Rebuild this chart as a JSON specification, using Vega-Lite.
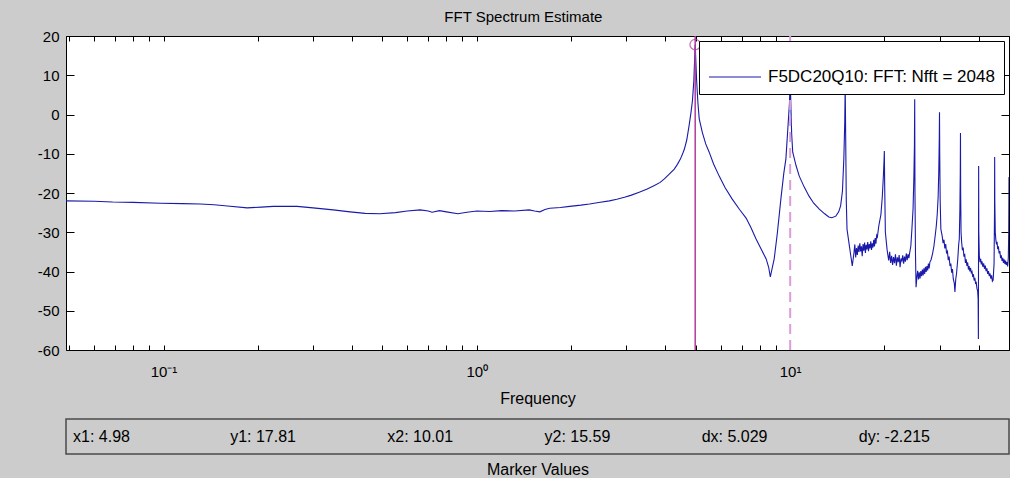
{
  "$schema": "https://vega.github.io/schema/vega-lite/v6.json",
  "padding": {"left": 36, "top": 9, "right": 0, "bottom": 0},
  "title": {"text": "FFT Spectrum Estimate", "anchor": "middle", "fontSize": 15, "fontWeight": "normal", "font": "Liberation Sans", "color": "black", "offset": 4},
  "datasets": {
    "spectrum": [
      {"freq": 0.0488, "db": -22.0}, {"freq": 0.06, "db": -22.1}, {"freq": 0.0688, "db": -22.3}, {"freq": 0.08, "db": -22.4},
      {"freq": 0.0978, "db": -22.6}, {"freq": 0.115, "db": -22.7}, {"freq": 0.131, "db": -22.8}, {"freq": 0.145, "db": -23.0},
      {"freq": 0.16, "db": -23.3}, {"freq": 0.185, "db": -23.8}, {"freq": 0.205, "db": -23.6}, {"freq": 0.224, "db": -23.4},
      {"freq": 0.267, "db": -23.4}, {"freq": 0.3, "db": -23.8}, {"freq": 0.348, "db": -24.3}, {"freq": 0.394, "db": -24.8},
      {"freq": 0.44, "db": -25.2}, {"freq": 0.49, "db": -25.3}, {"freq": 0.55, "db": -25.0}, {"freq": 0.6, "db": -24.6},
      {"freq": 0.66, "db": -24.3}, {"freq": 0.7, "db": -24.6}, {"freq": 0.72, "db": -24.9}, {"freq": 0.76, "db": -24.5},
      {"freq": 0.8, "db": -24.8}, {"freq": 0.87, "db": -25.3}, {"freq": 0.93, "db": -24.9}, {"freq": 1.0, "db": -24.6},
      {"freq": 1.1, "db": -24.7}, {"freq": 1.2, "db": -24.5}, {"freq": 1.32, "db": -24.6}, {"freq": 1.47, "db": -24.3},
      {"freq": 1.53, "db": -24.6}, {"freq": 1.59, "db": -24.8}, {"freq": 1.65, "db": -24.2}, {"freq": 1.71, "db": -23.9},
      {"freq": 1.85, "db": -23.7}, {"freq": 1.98, "db": -23.4}, {"freq": 2.15, "db": -23.1}, {"freq": 2.29, "db": -22.8},
      {"freq": 2.45, "db": -22.4}, {"freq": 2.65, "db": -22.0}, {"freq": 2.8, "db": -21.6}, {"freq": 2.96, "db": -21.1},
      {"freq": 3.1, "db": -20.6}, {"freq": 3.3, "db": -19.8}, {"freq": 3.5, "db": -19.0}, {"freq": 3.69, "db": -18.1},
      {"freq": 3.85, "db": -17.3}, {"freq": 3.97, "db": -16.4}, {"freq": 4.1, "db": -15.3}, {"freq": 4.27, "db": -13.9},
      {"freq": 4.37, "db": -12.7}, {"freq": 4.47, "db": -11.3}, {"freq": 4.55, "db": -9.8}, {"freq": 4.6, "db": -8.8},
      {"freq": 4.68, "db": -6.5}, {"freq": 4.76, "db": -2.9}, {"freq": 4.83, "db": 0.6}, {"freq": 4.88, "db": 3.5},
      {"freq": 4.93, "db": 8.5}, {"freq": 4.98, "db": 17.8}, {"freq": 5.03, "db": 9.0}, {"freq": 5.08, "db": 3.0},
      {"freq": 5.13, "db": -1.1}, {"freq": 5.25, "db": -4.6}, {"freq": 5.38, "db": -7.5}, {"freq": 5.52, "db": -9.6},
      {"freq": 5.7, "db": -12.6}, {"freq": 5.94, "db": -15.7}, {"freq": 6.2, "db": -18.6}, {"freq": 6.53, "db": -21.5},
      {"freq": 6.9, "db": -24.2}, {"freq": 7.24, "db": -26.4}, {"freq": 7.5, "db": -28.8}, {"freq": 7.79, "db": -31.7},
      {"freq": 8.1, "db": -34.4}, {"freq": 8.39, "db": -36.8}, {"freq": 8.55, "db": -39.0}, {"freq": 8.65, "db": -41.4},
      {"freq": 8.75, "db": -39.5}, {"freq": 8.9, "db": -36.8}, {"freq": 9.1, "db": -30.5}, {"freq": 9.35, "db": -21.5},
      {"freq": 9.55, "db": -15.0}, {"freq": 9.7, "db": -11.3}, {"freq": 9.85, "db": -3.0}, {"freq": 9.96, "db": 3.0},
      {"freq": 10.01, "db": 10.0}, {"freq": 10.06, "db": 2.5}, {"freq": 10.12, "db": -5.0}, {"freq": 10.2, "db": -9.6},
      {"freq": 10.45, "db": -13.0}, {"freq": 10.7, "db": -15.7}, {"freq": 11.1, "db": -18.5}, {"freq": 11.5, "db": -20.8},
      {"freq": 11.9, "db": -22.6}, {"freq": 12.4, "db": -24.1}, {"freq": 12.9, "db": -25.3}, {"freq": 13.3, "db": -26.1},
      {"freq": 13.6, "db": -26.3}, {"freq": 14.0, "db": -25.9}, {"freq": 14.3, "db": -24.8}, {"freq": 14.5, "db": -23.3},
      {"freq": 14.7, "db": -19.5}, {"freq": 14.85, "db": -11.3}, {"freq": 14.95, "db": -2.0}, {"freq": 15.0, "db": 7.8},
      {"freq": 15.05, "db": -5.0}, {"freq": 15.12, "db": -22.0}, {"freq": 15.2, "db": -29.2}, {"freq": 15.5, "db": -34.0},
      {"freq": 15.8, "db": -38.6},
      {"freq": 16.0, "db": -35.2}, {"freq": 16.1, "db": -33.1}, {"freq": 16.2, "db": -36.4}, {"freq": 16.3, "db": -34.0},
      {"freq": 16.4, "db": -35.8}, {"freq": 16.5, "db": -33.4}, {"freq": 16.6, "db": -35.0}, {"freq": 16.7, "db": -32.8},
      {"freq": 16.8, "db": -34.9}, {"freq": 16.9, "db": -33.6}, {"freq": 17.0, "db": -36.1}, {"freq": 17.1, "db": -33.0},
      {"freq": 17.2, "db": -34.7}, {"freq": 17.3, "db": -32.6}, {"freq": 17.4, "db": -35.3}, {"freq": 17.5, "db": -33.2},
      {"freq": 17.6, "db": -34.4}, {"freq": 17.7, "db": -32.5}, {"freq": 17.8, "db": -34.8}, {"freq": 17.9, "db": -33.0},
      {"freq": 18.0, "db": -34.1}, {"freq": 18.1, "db": -32.3}, {"freq": 18.2, "db": -34.5}, {"freq": 18.3, "db": -32.8},
      {"freq": 18.4, "db": -33.9}, {"freq": 18.5, "db": -31.9}, {"freq": 18.6, "db": -33.6}, {"freq": 18.7, "db": -31.5},
      {"freq": 18.8, "db": -32.9}, {"freq": 18.9, "db": -30.8}, {"freq": 19.0, "db": -31.2}, {"freq": 19.2, "db": -28.4},
      {"freq": 19.5, "db": -25.5}, {"freq": 19.7, "db": -21.0}, {"freq": 19.85, "db": -16.0}, {"freq": 19.95, "db": -12.0},
      {"freq": 20.0, "db": -9.3}, {"freq": 20.05, "db": -18.0}, {"freq": 20.15, "db": -30.0}, {"freq": 20.4, "db": -34.3},
      {"freq": 20.5, "db": -35.5}, {"freq": 20.65, "db": -37.2}, {"freq": 20.8, "db": -35.0}, {"freq": 20.95, "db": -37.8},
      {"freq": 21.1, "db": -36.0}, {"freq": 21.25, "db": -38.3}, {"freq": 21.4, "db": -36.3}, {"freq": 21.55, "db": -37.9},
      {"freq": 21.7, "db": -35.6}, {"freq": 21.85, "db": -38.5}, {"freq": 22.0, "db": -36.4}, {"freq": 22.15, "db": -37.6},
      {"freq": 22.3, "db": -35.8}, {"freq": 22.45, "db": -38.9}, {"freq": 22.6, "db": -36.7}, {"freq": 22.75, "db": -37.3},
      {"freq": 22.9, "db": -35.9}, {"freq": 23.05, "db": -38.0}, {"freq": 23.2, "db": -36.2}, {"freq": 23.35, "db": -37.5},
      {"freq": 23.5, "db": -35.4}, {"freq": 23.65, "db": -37.1}, {"freq": 23.8, "db": -35.6}, {"freq": 23.95, "db": -36.6},
      {"freq": 24.1, "db": -35.2}, {"freq": 24.3, "db": -33.5}, {"freq": 24.5, "db": -29.0}, {"freq": 24.7, "db": -24.0},
      {"freq": 24.85, "db": -16.0}, {"freq": 24.95, "db": -8.0}, {"freq": 25.0, "db": 3.9}, {"freq": 25.05, "db": -20.0},
      {"freq": 25.15, "db": -36.0}, {"freq": 25.25, "db": -44.0},
      {"freq": 25.4, "db": -41.5}, {"freq": 25.55, "db": -39.8}, {"freq": 25.7, "db": -42.0}, {"freq": 25.85, "db": -40.2},
      {"freq": 26.0, "db": -41.8}, {"freq": 26.15, "db": -39.9}, {"freq": 26.3, "db": -41.2}, {"freq": 26.45, "db": -39.5},
      {"freq": 26.6, "db": -41.0}, {"freq": 26.75, "db": -39.2}, {"freq": 26.9, "db": -40.6}, {"freq": 27.05, "db": -38.8},
      {"freq": 27.2, "db": -40.1}, {"freq": 27.35, "db": -38.6}, {"freq": 27.5, "db": -39.7}, {"freq": 27.65, "db": -38.0},
      {"freq": 27.8, "db": -39.2}, {"freq": 27.95, "db": -37.6}, {"freq": 28.2, "db": -37.0}, {"freq": 28.5, "db": -35.5},
      {"freq": 28.8, "db": -33.5}, {"freq": 29.1, "db": -30.5}, {"freq": 29.3, "db": -28.4}, {"freq": 29.5, "db": -25.5},
      {"freq": 29.7, "db": -21.0}, {"freq": 29.85, "db": -14.0}, {"freq": 29.95, "db": -6.0}, {"freq": 30.0, "db": 0.6},
      {"freq": 30.05, "db": -10.0}, {"freq": 30.15, "db": -22.0}, {"freq": 30.3, "db": -29.2}, {"freq": 30.6, "db": -31.0},
      {"freq": 30.8, "db": -32.8}, {"freq": 31.0, "db": -31.9}, {"freq": 31.2, "db": -34.1}, {"freq": 31.4, "db": -33.0},
      {"freq": 31.6, "db": -35.4}, {"freq": 31.8, "db": -34.9}, {"freq": 32.0, "db": -37.1}, {"freq": 32.2, "db": -36.2},
      {"freq": 32.4, "db": -38.6}, {"freq": 32.6, "db": -38.0}, {"freq": 32.8, "db": -40.3}, {"freq": 33.0, "db": -39.4},
      {"freq": 33.2, "db": -41.9}, {"freq": 33.45, "db": -43.0}, {"freq": 33.6, "db": -45.2}, {"freq": 33.8, "db": -42.0},
      {"freq": 34.0, "db": -40.5}, {"freq": 34.3, "db": -37.0}, {"freq": 34.55, "db": -33.0}, {"freq": 34.7, "db": -31.7},
      {"freq": 34.85, "db": -24.0}, {"freq": 34.95, "db": -15.0}, {"freq": 35.0, "db": -4.7}, {"freq": 35.05, "db": -20.0},
      {"freq": 35.15, "db": -30.0}, {"freq": 35.3, "db": -32.5}, {"freq": 35.5, "db": -34.6}, {"freq": 35.7, "db": -33.9},
      {"freq": 35.9, "db": -36.2}, {"freq": 36.1, "db": -35.5}, {"freq": 36.3, "db": -37.8}, {"freq": 36.5, "db": -36.9},
      {"freq": 36.7, "db": -38.6}, {"freq": 36.9, "db": -37.7}, {"freq": 37.1, "db": -39.5}, {"freq": 37.3, "db": -38.6},
      {"freq": 37.5, "db": -40.0}, {"freq": 37.7, "db": -39.1}, {"freq": 37.9, "db": -40.3}, {"freq": 38.1, "db": -40.0},
      {"freq": 38.3, "db": -41.4}, {"freq": 38.5, "db": -40.7}, {"freq": 38.7, "db": -42.3}, {"freq": 38.9, "db": -41.6},
      {"freq": 39.1, "db": -43.0}, {"freq": 39.3, "db": -42.8}, {"freq": 39.5, "db": -44.3}, {"freq": 39.7, "db": -44.9},
      {"freq": 39.85, "db": -47.0}, {"freq": 39.93, "db": -57.2}, {"freq": 40.0, "db": -13.1}, {"freq": 40.05, "db": -30.0},
      {"freq": 40.2, "db": -36.0}, {"freq": 40.4, "db": -37.6}, {"freq": 40.6, "db": -36.8}, {"freq": 40.8, "db": -38.2},
      {"freq": 41.0, "db": -37.4}, {"freq": 41.25, "db": -38.8}, {"freq": 41.5, "db": -37.9}, {"freq": 41.75, "db": -39.3},
      {"freq": 42.0, "db": -38.5}, {"freq": 42.25, "db": -39.9}, {"freq": 42.5, "db": -39.2}, {"freq": 42.75, "db": -40.6},
      {"freq": 43.0, "db": -39.9}, {"freq": 43.25, "db": -41.2}, {"freq": 43.5, "db": -40.5}, {"freq": 43.75, "db": -41.8},
      {"freq": 44.0, "db": -41.0}, {"freq": 44.25, "db": -42.5}, {"freq": 44.5, "db": -42.2}, {"freq": 44.8, "db": -38.0},
      {"freq": 44.95, "db": -25.0}, {"freq": 45.0, "db": -10.8}, {"freq": 45.05, "db": -22.0}, {"freq": 45.2, "db": -30.0},
      {"freq": 45.4, "db": -32.0}, {"freq": 45.6, "db": -33.1}, {"freq": 45.8, "db": -32.4}, {"freq": 46.0, "db": -34.3},
      {"freq": 46.25, "db": -33.6}, {"freq": 46.5, "db": -35.4}, {"freq": 46.75, "db": -34.8}, {"freq": 47.0, "db": -36.6},
      {"freq": 47.25, "db": -35.9}, {"freq": 47.5, "db": -37.3}, {"freq": 47.75, "db": -36.5}, {"freq": 48.0, "db": -37.8},
      {"freq": 48.25, "db": -36.9}, {"freq": 48.5, "db": -38.1}, {"freq": 48.75, "db": -37.2}, {"freq": 49.0, "db": -38.3},
      {"freq": 49.25, "db": -37.6}, {"freq": 49.5, "db": -38.7}, {"freq": 49.75, "db": -36.5}, {"freq": 49.9, "db": -30.0},
      {"freq": 50.0, "db": -15.9}
    ],
    "markers": [
      {"mx": 4.98, "my": 17.81, "kind": "solid"},
      {"mx": 10.01, "my": 15.59, "kind": "dashed"}
    ],
    "readout": [
      {"idx": 1, "label": "x1: 4.98"},
      {"idx": 2, "label": "y1: 17.81"},
      {"idx": 3, "label": "x2: 10.01"},
      {"idx": 4, "label": "y2: 15.59"},
      {"idx": 5, "label": "dx: 5.029"},
      {"idx": 6, "label": "dy: -2.215"}
    ]
  },
  "vconcat": [
    {
      "width": 943,
      "height": 314,
      "view": {"fill": "white", "stroke": "black", "strokeWidth": 1},
      "layer": [
        {
          "data": {"name": "spectrum"},
          "mark": {"type": "line", "strokeWidth": 1.1, "clip": true},
          "encoding": {
            "x": {
              "field": "freq", "type": "quantitative",
              "scale": {"type": "log", "domain": [0.048828, 50], "nice": false},
              "axis": {
                "orient": "bottom",
                "values": [0.05, 0.06, 0.07, 0.08, 0.09, 0.1, 0.2, 0.3, 0.4, 0.5, 0.6, 0.7, 0.8, 0.9, 1, 2, 3, 4, 5, 6, 7, 8, 9, 10, 20, 30, 40, 50],
                "labelExpr": "datum.value == 0.1 ? '10⁻¹' : datum.value == 1 ? '10⁰' : datum.value == 10 ? '10¹' : ''",
                "labelOverlap": false, "labelFlush": false,
                "tickSize": -5, "labelPadding": 19, "labelFontSize": 15,
                "title": "Frequency", "titleFontSize": 16, "titlePadding": 11
              }
            },
            "y": {
              "field": "db", "type": "quantitative",
              "scale": {"domain": [-60, 20], "nice": false, "zero": false},
              "axis": {
                "orient": "left",
                "values": [-60, -50, -40, -30, -20, -10, 0, 10, 20],
                "labelExpr": "datum.value < 0 ? '-' + abs(datum.value) : '' + datum.value",
                "tickSize": -8, "labelPadding": 15, "labelFontSize": 15, "title": null
              }
            },
            "color": {
              "datum": "F5DC20Q10: FFT: Nfft = 2048", "type": "nominal",
              "scale": {"range": ["#1a1aaa"]},
              "legend": {
                "title": null, "orient": "top-right", "offset": 5,
                "fillColor": "white", "strokeColor": "black", "padding": 9,
                "symbolType": "stroke", "symbolSize": 2704, "symbolStrokeWidth": 1.2,
                "labelFontSize": 17, "labelOffset": 6, "labelColor": "black", "labelLimit": 400
              }
            }
          }
        },
        {
          "data": {"name": "markers"},
          "transform": [{"filter": "datum.kind == 'solid'"}],
          "mark": {"type": "rule", "color": "#b03c9c", "strokeWidth": 1.5},
          "encoding": {"x": {"field": "mx", "type": "quantitative", "axis": null}}
        },
        {
          "data": {"name": "markers"},
          "transform": [{"filter": "datum.kind == 'dashed'"}],
          "mark": {"type": "rule", "color": "#d79fd9", "strokeWidth": 2, "strokeDash": [10, 6]},
          "encoding": {"x": {"field": "mx", "type": "quantitative", "axis": null}}
        },
        {
          "data": {"name": "markers"},
          "transform": [{"filter": "datum.kind == 'solid'"}],
          "mark": {"type": "point", "shape": "circle", "filled": false, "color": "#b03c9c", "size": 110, "strokeWidth": 1.3},
          "encoding": {
            "x": {
              "field": "mx", "type": "quantitative",
              "axis": {
                "orient": "top", "labels": false, "title": null, "tickSize": -5,
                "values": [0.05, 0.06, 0.07, 0.08, 0.09, 0.1, 0.2, 0.3, 0.4, 0.5, 0.6, 0.7, 0.8, 0.9, 1, 2, 3, 4, 5, 6, 7, 8, 9, 10, 20, 30, 40, 50]
              }
            },
            "y": {
              "field": "my", "type": "quantitative",
              "axis": {
                "orient": "right", "labels": false, "title": null, "tickSize": -8,
                "values": [-60, -50, -40, -30, -20, -10, 0, 10, 20]
              }
            }
          }
        }
      ],
      "resolve": {"axis": {"x": "independent", "y": "independent"}}
    },
    {
      "width": 943,
      "height": 35,
      "view": {"fill": "#cccccc", "stroke": "#4a4a4a", "strokeWidth": 1.5},
      "data": {"name": "readout"},
      "mark": {"type": "text", "align": "left", "baseline": "middle", "dx": 7, "fontSize": 16, "color": "black"},
      "encoding": {
        "x": {
          "field": "idx", "type": "ordinal", "bandPosition": 0,
          "scale": {"type": "band", "paddingInner": 0, "paddingOuter": 0},
          "axis": {"title": "Marker Values", "labels": false, "ticks": false, "domain": false, "titleFontSize": 16, "titlePadding": 7}
        },
        "text": {"field": "label"}
      }
    }
  ],
  "config": {
    "background": "#cccccc",
    "font": "Liberation Sans",
    "view": {"stroke": null},
    "axis": {"labelFont": "Liberation Sans", "titleFont": "Liberation Sans", "labelColor": "black", "titleColor": "black", "tickColor": "black", "grid": false, "domain": false, "titleFontWeight": "normal"},
    "legend": {"labelFont": "Liberation Sans"},
    "concat": {"spacing": 11}
  }
}
